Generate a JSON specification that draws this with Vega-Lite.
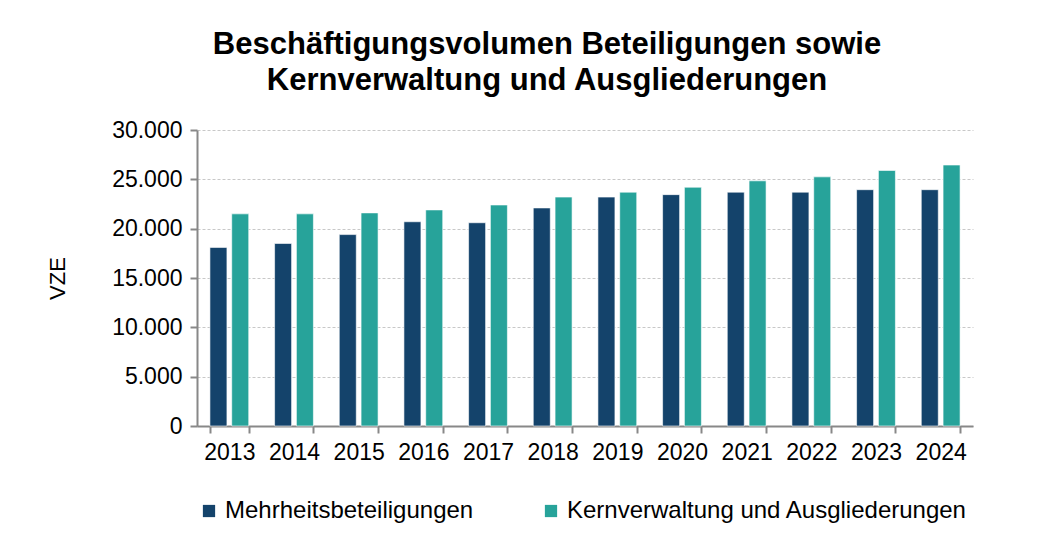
{
  "$schema": "https://vega.github.io/schema/vega-lite/v6.json",
  "width": 776,
  "height": 296,
  "autosize": {"type": "none"},
  "padding": {"left": 197, "top": 130, "right": 86, "bottom": 115},
  "background": "#ffffff",
  "config": {
    "locale": {"number": {"decimal": ",", "thousands": ".", "grouping": [3], "currency": ["", " €"]}},
    "font": "Liberation Sans",
    "view": {"stroke": null}
  },
  "title": {
    "text": ["Beschäftigungsvolumen Beteiligungen sowie", "Kernverwaltung und Ausgliederungen"],
    "font": "Liberation Sans",
    "fontSize": 31,
    "fontWeight": "bold",
    "color": "#000000",
    "lineHeight": 36,
    "anchor": "middle",
    "frame": "group",
    "dx": -38,
    "offset": 22
  },
  "data": {
    "values": [
      {"year": "2013", "series": "Mehrheitsbeteiligungen", "value": 18100},
      {"year": "2013", "series": "Kernverwaltung und Ausgliederungen", "value": 21500},
      {"year": "2014", "series": "Mehrheitsbeteiligungen", "value": 18500},
      {"year": "2014", "series": "Kernverwaltung und Ausgliederungen", "value": 21500},
      {"year": "2015", "series": "Mehrheitsbeteiligungen", "value": 19400},
      {"year": "2015", "series": "Kernverwaltung und Ausgliederungen", "value": 21600},
      {"year": "2016", "series": "Mehrheitsbeteiligungen", "value": 20700},
      {"year": "2016", "series": "Kernverwaltung und Ausgliederungen", "value": 21900},
      {"year": "2017", "series": "Mehrheitsbeteiligungen", "value": 20600},
      {"year": "2017", "series": "Kernverwaltung und Ausgliederungen", "value": 22400},
      {"year": "2018", "series": "Mehrheitsbeteiligungen", "value": 22100},
      {"year": "2018", "series": "Kernverwaltung und Ausgliederungen", "value": 23200},
      {"year": "2019", "series": "Mehrheitsbeteiligungen", "value": 23200},
      {"year": "2019", "series": "Kernverwaltung und Ausgliederungen", "value": 23700},
      {"year": "2020", "series": "Mehrheitsbeteiligungen", "value": 23450},
      {"year": "2020", "series": "Kernverwaltung und Ausgliederungen", "value": 24200},
      {"year": "2021", "series": "Mehrheitsbeteiligungen", "value": 23700},
      {"year": "2021", "series": "Kernverwaltung und Ausgliederungen", "value": 24850},
      {"year": "2022", "series": "Mehrheitsbeteiligungen", "value": 23700},
      {"year": "2022", "series": "Kernverwaltung und Ausgliederungen", "value": 25250},
      {"year": "2023", "series": "Mehrheitsbeteiligungen", "value": 23950},
      {"year": "2023", "series": "Kernverwaltung und Ausgliederungen", "value": 25900},
      {"year": "2024", "series": "Mehrheitsbeteiligungen", "value": 23950},
      {"year": "2024", "series": "Kernverwaltung und Ausgliederungen", "value": 26450}
    ]
  },
  "mark": {"type": "bar", "stroke": "#ffffff", "strokeWidth": 0.6},
  "encoding": {
    "x": {
      "field": "year",
      "type": "nominal",
      "scale": {"paddingInner": 0.4, "paddingOuter": 0.2},
      "axis": {
        "title": null,
        "labelAngle": 0,
        "labelFont": "Liberation Sans",
        "labelFontSize": 23,
        "labelColor": "#000000",
        "labelPadding": 8,
        "tickBand": "extent",
        "tickColor": "#888888",
        "tickWidth": 2,
        "tickSize": 7,
        "domainColor": "#888888",
        "domainWidth": 2
      }
    },
    "xOffset": {
      "field": "series",
      "type": "nominal",
      "sort": ["Mehrheitsbeteiligungen", "Kernverwaltung und Ausgliederungen"],
      "scale": {"paddingInner": 0.22}
    },
    "y": {
      "field": "value",
      "type": "quantitative",
      "scale": {"domain": [0, 30000], "nice": false},
      "axis": {
        "title": "VZE",
        "titleFont": "Liberation Sans",
        "titleFontSize": 22,
        "titleFontWeight": "normal",
        "titleColor": "#000000",
        "titlePadding": 42,
        "values": [0, 5000, 10000, 15000, 20000, 25000, 30000],
        "format": ",d",
        "labelFont": "Liberation Sans",
        "labelFontSize": 23,
        "labelColor": "#000000",
        "labelPadding": 8,
        "tickColor": "#888888",
        "tickWidth": 2,
        "tickSize": 7,
        "domainColor": "#888888",
        "domainWidth": 2,
        "grid": true,
        "gridColor": "#c8c8c8",
        "gridDash": [3, 2],
        "gridWidth": 1
      }
    },
    "color": {
      "field": "series",
      "type": "nominal",
      "sort": ["Mehrheitsbeteiligungen", "Kernverwaltung und Ausgliederungen"],
      "scale": {
        "domain": ["Mehrheitsbeteiligungen", "Kernverwaltung und Ausgliederungen"],
        "range": ["#14436B", "#27A39A"]
      },
      "legend": {
        "title": null,
        "orient": "bottom",
        "direction": "horizontal",
        "offset": 35,
        "symbolType": "square",
        "symbolSize": 150,
        "symbolStrokeWidth": 0,
        "labelFont": "Liberation Sans",
        "labelFontSize": 24,
        "labelColor": "#000000",
        "labelOffset": 4,
        "labelLimit": 0,
        "columnPadding": 65
      }
    }
  }
}
